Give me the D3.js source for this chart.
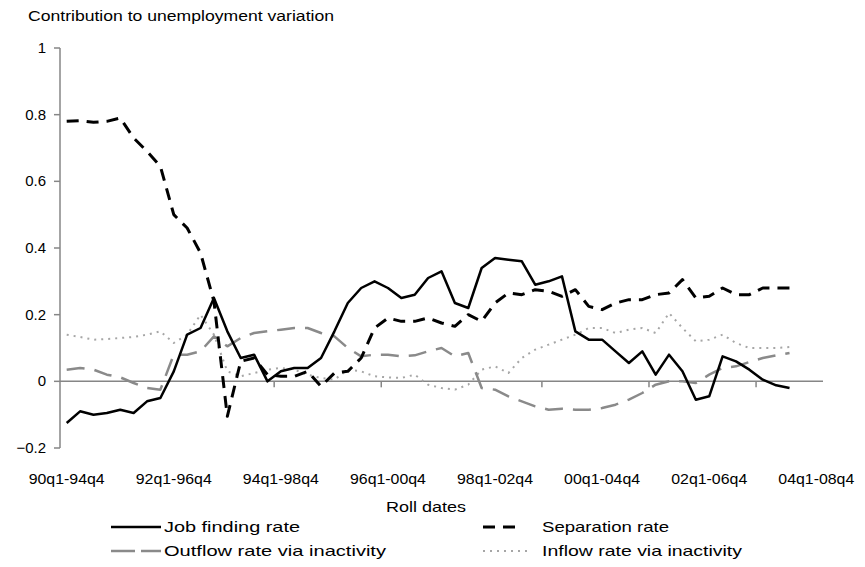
<!DOCTYPE html>
<html>
<head>
<meta charset="utf-8">
<script src="https://cdn.jsdelivr.net/npm/d3@7"></script>
<style>
  body { margin: 0; background: #fff; }
  svg text { font-family: "Liberation Sans", Arial, sans-serif; fill: #000; }
</style>
</head>
<body>
<div id="chart"></div>
<script>
// rolling 5-year windows, quarterly
let categories = [
  "90q1-94q4","90q2-95q1","90q3-95q2","90q4-95q3",
  "91q1-95q4","91q2-96q1","91q3-96q2","91q4-96q3",
  "92q1-96q4","92q2-97q1","92q3-97q2","92q4-97q3",
  "93q1-97q4","93q2-98q1","93q3-98q2","93q4-98q3",
  "94q1-98q4","94q2-99q1","94q3-99q2","94q4-99q3",
  "95q1-99q4","95q2-00q1","95q3-00q2","95q4-00q3",
  "96q1-00q4","96q2-01q1","96q3-01q2","96q4-01q3",
  "97q1-01q4","97q2-02q1","97q3-02q2","97q4-02q3",
  "98q1-02q4","98q2-03q1","98q3-03q2","98q4-03q3",
  "99q1-03q4","99q2-04q1","99q3-04q2","99q4-04q3",
  "00q1-04q4","00q2-05q1","00q3-05q2","00q4-05q3",
  "01q1-05q4","01q2-06q1","01q3-06q2","01q4-06q3",
  "02q1-06q4","02q2-07q1","02q3-07q2","02q4-07q3",
  "03q1-07q4","03q2-08q1","03q3-08q2","03q4-08q3",
  "04q1-08q4"
];

let xTickLabels = ["90q1-94q4","92q1-96q4","94q1-98q4","96q1-00q4","98q1-02q4","00q1-04q4","02q1-06q4","04q1-08q4"];
let xTickMarks = [16, 24, 36, 44, 52]; // category boundaries carrying a tick mark
let yTicks = [-0.2, 0, 0.2, 0.4, 0.6, 0.8, 1];

let jobFinding = [
  -0.125, -0.09, -0.10, -0.095, -0.085, -0.095, -0.06, -0.05,
  0.03, 0.14, 0.16, 0.25, 0.15, 0.07, 0.08, 0.0,
  0.03, 0.04, 0.04, 0.07, 0.15, 0.235, 0.28, 0.30,
  0.28, 0.25, 0.26, 0.31, 0.33, 0.235, 0.22, 0.34,
  0.37, 0.365, 0.36, 0.29, 0.30, 0.315, 0.15, 0.125,
  0.125, 0.09, 0.055, 0.09, 0.02, 0.08, 0.03, -0.055,
  -0.045, 0.075, 0.06, 0.035, 0.005, -0.012, -0.02
];

let separation = [
  0.78, 0.782, 0.777, 0.78, 0.79, 0.73, 0.69, 0.645,
  0.50, 0.46, 0.385, 0.24, -0.105, 0.06, 0.07, 0.02,
  0.015, 0.015, 0.03, -0.015, 0.025, 0.03, 0.07, 0.16,
  0.19, 0.18, 0.18, 0.19, 0.175, 0.165, 0.20, 0.18,
  0.235, 0.265, 0.26, 0.275, 0.27, 0.255, 0.275, 0.225,
  0.215, 0.235, 0.245, 0.245, 0.26, 0.265, 0.305, 0.25,
  0.255, 0.28, 0.26, 0.26, 0.28, 0.28, 0.28
];

let outflowInactivity = [
  0.035, 0.04, 0.035, 0.02, 0.012, -0.005, -0.02, -0.025,
  0.08, 0.08, 0.09, 0.135, 0.105, 0.13, 0.145, 0.15,
  0.155, 0.16, 0.16, 0.145, 0.135, 0.10, 0.075, 0.08,
  0.08, 0.075, 0.078, 0.09, 0.10, 0.075, 0.085, -0.02,
  -0.025, -0.045, -0.06, -0.075, -0.085, -0.082, -0.085, -0.085,
  -0.08, -0.07, -0.055, -0.035, -0.01, 0.0, 0.0, -0.005,
  0.02, 0.04, 0.045, 0.058, 0.07, 0.078, 0.085
];

let inflowInactivity = [
  0.14, 0.133, 0.125, 0.127, 0.13, 0.133, 0.14, 0.15,
  0.115, 0.14, 0.20, 0.14, 0.03, 0.015, 0.025, 0.035,
  0.04, 0.035, 0.02, 0.01, 0.005, 0.035, 0.03, 0.015,
  0.012, 0.01, 0.02, -0.01, -0.02, -0.025, -0.01, 0.035,
  0.045, 0.025, 0.07, 0.095, 0.11, 0.125, 0.14, 0.16,
  0.16, 0.145, 0.155, 0.16, 0.145, 0.205, 0.16, 0.12,
  0.125, 0.14, 0.115, 0.10, 0.10, 0.10, 0.103
];

let width = 865;
let height = 567;

let svg = d3.select("#chart")
  .append("svg")
  .attr("width", width)
  .attr("height", height);

let x = d3.scaleBand()
  .domain(categories)
  .range([60, 823]);

let y = d3.scaleLinear()
  .domain([-0.2, 1])
  .range([448, 48]);

let cx = c => x(c) + x.bandwidth() / 2;

// the source renders its text wide and thin, so stretch to its measured widths
function stretched(sel, len) {
  sel.attr("textLength", len).attr("lengthAdjust", "spacingAndGlyphs");
}

// title
svg.append("text")
  .attr("x", 28)
  .attr("y", 21)
  .style("font-size", "14px")
  .text("Contribution to unemployment variation")
  .call(stretched, 306);

// y axis
let axisColor = "#868686";
svg.append("line")
  .attr("x1", 60).attr("x2", 60)
  .attr("y1", y(1)).attr("y2", y(-0.2))
  .style("stroke", axisColor)
  .style("stroke-width", 1.5);

svg.selectAll(".ytick")
  .data(yTicks)
  .enter()
  .append("line")
  .attr("class", "ytick")
  .attr("x1", 54).attr("x2", 60)
  .attr("y1", d => y(d)).attr("y2", d => y(d))
  .style("stroke", axisColor)
  .style("stroke-width", 1.5);

svg.selectAll(".ylabel")
  .data(yTicks)
  .enter()
  .append("text")
  .attr("class", "ylabel")
  .attr("x", 46)
  .attr("y", d => y(d) + 5)
  .style("text-anchor", "end")
  .style("font-size", "15px")
  .text(d => d3.format("")(+d.toFixed(1)));

// zero line (category axis)
svg.append("line")
  .attr("x1", 60).attr("x2", 823)
  .attr("y1", y(0)).attr("y2", y(0))
  .style("stroke", axisColor)
  .style("stroke-width", 1.5);

svg.selectAll(".xtick")
  .data(xTickMarks)
  .enter()
  .append("line")
  .attr("class", "xtick")
  .attr("x1", d => 60 + d * x.step()).attr("x2", d => 60 + d * x.step())
  .attr("y1", y(0)).attr("y2", y(0) + 6)
  .style("stroke", axisColor)
  .style("stroke-width", 1.5);

svg.selectAll(".xlabel")
  .data(xTickLabels)
  .enter()
  .append("text")
  .attr("class", "xlabel")
  .attr("x", d => cx(d))
  .attr("y", 484)
  .style("text-anchor", "middle")
  .style("font-size", "15px")
  .text(d => d)
  .call(stretched, 76);

svg.append("text")
  .attr("x", 426)
  .attr("y", 512)
  .style("text-anchor", "middle")
  .style("font-size", "15px")
  .text("Roll dates")
  .call(stretched, 80);

// series
let series = [
  {name: "Job finding rate", values: jobFinding, color: "#000", width: 2.5, dash: null},
  {name: "Separation rate", values: separation, color: "#000", width: 3, dash: "12,8"},
  {name: "Outflow rate via inactivity", values: outflowInactivity, color: "#8a8a8a", width: 2.5, dash: "18,10"},
  {name: "Inflow rate via inactivity", values: inflowInactivity, color: "#a6a6a6", width: 2, dash: "2,5"}
];

let line = d3.line()
  .defined(d => d != null)
  .x((d, i) => cx(categories[i]))
  .y(d => y(d));

// draw lighter lines first so black stays on top
let drawOrder = [3, 2, 1, 0];
drawOrder.forEach(function(k) {
  let s = series[k];
  svg.append("path")
    .datum(s.values)
    .attr("d", line)
    .style("fill", "none")
    .style("stroke", s.color)
    .style("stroke-width", s.width)
    .style("stroke-dasharray", s.dash)
    .style("stroke-linejoin", "round");
});

// legend
let legendPos = [
  {lx: 111, tx: 164, y: 527, tw: 136},
  {lx: 483, tx: 542, y: 527, tw: 127},
  {lx: 111, tx: 164, y: 551, tw: 222},
  {lx: 483, tx: 542, y: 551, tw: 200}
];
let symbolLen = [50, 40, 50, 47];

series.forEach(function(s, k) {
  let p = legendPos[k];
  svg.append("line")
    .attr("x1", p.lx).attr("x2", p.lx + symbolLen[k])
    .attr("y1", p.y).attr("y2", p.y)
    .style("stroke", s.color)
    .style("stroke-width", s.width)
    .style("stroke-dasharray", k == 2 ? "24,6" : s.dash);
  svg.append("text")
    .attr("x", p.tx)
    .attr("y", p.y + 5)
    .style("font-size", "15px")
    .text(s.name)
    .call(stretched, p.tw);
});
</script>
</body>
</html>
